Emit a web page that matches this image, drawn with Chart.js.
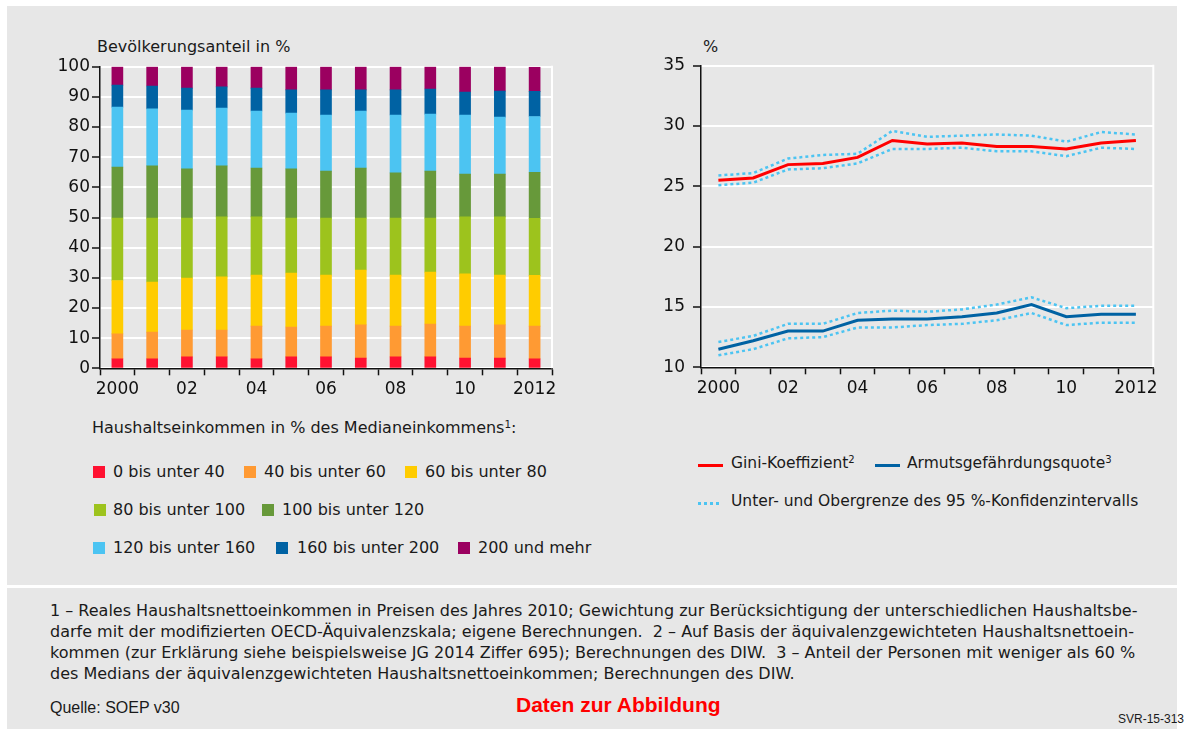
<!DOCTYPE html>
<html>
<head>
<meta charset="utf-8">
<script src="https://cdn.jsdelivr.net/npm/chart.js@4"></script>
<style>
  body { margin: 0; background: #fff; width: 1184px; height: 729px; position: relative; overflow: hidden; font-family: "DejaVu Sans", sans-serif; color: #1a1a1a; }
  .panel { position: absolute; background: #e7e7e7; }
  canvas { position: absolute; }
  .txt { position: absolute; white-space: nowrap; }
  .box { position: absolute; width: 12px; height: 12px; }
  .ln { position: absolute; height: 3px; width: 25px; }
  sup { font-size: 65%; vertical-align: 0; position: relative; top: -0.5em; }
</style>
</head>
<body>
<div class="panel" style="left:7px;top:6px;width:1170px;height:579px"></div>
<div class="panel" style="left:7px;top:588px;width:1170px;height:141px"></div>

<div class="txt" style="left:97px;top:37px;font-size:16px">Bevölkerungsanteil in %</div>
<div class="txt" style="left:703px;top:37px;font-size:16px">%</div>

<canvas id="barChart" width="530" height="370" style="left:40px;top:40px"></canvas>
<canvas id="lineChart" width="550" height="370" style="left:620px;top:40px"></canvas>

<div class="txt" style="left:92px;top:418px;font-size:16px">Haushaltseinkommen in % des Medianeinkommens<sup>1</sup>:</div>
<div id="barLegend"></div>
<div id="lineLegend"></div>

<div class="txt" style="left:50px;top:600px;font-size:16px;line-height:21px">
1 – Reales Haushaltsnettoeinkommen in Preisen des Jahres 2010; Gewichtung zur Berücksichtigung der unterschiedlichen Haushaltsbe-<br>
darfe mit der modifizierten OECD-Äquivalenzskala; eigene Berechnungen.&nbsp; 2 – Auf Basis der äquivalenzgewichteten Haushaltsnettoein-<br>
kommen (zur Erklärung siehe beispielsweise JG 2014 Ziffer 695); Berechnungen des DIW.&nbsp; 3 – Anteil der Personen mit weniger als 60 %<br>
des Medians der äquivalenzgewichteten Haushaltsnettoeinkommen; Berechnungen des DIW.
</div>
<div class="txt" style="left:50px;top:699px;font-size:16px;font-family:'Liberation Sans Narrow',sans-serif">Quelle: SOEP v30</div>
<div class="txt" style="left:516px;top:693px;font-size:21px;font-weight:bold;color:#f00;font-family:'Liberation Sans',sans-serif">Daten zur Abbildung</div>
<div class="txt" style="left:1118px;top:712px;font-size:12px;font-family:'Liberation Sans',sans-serif">SVR-15-313</div>

<script>
const years = ['2000','2001','2002','2003','2004','2005','2006','2007','2008','2009','2010','2011','2012'];
const tickLabels = ['2000','','02','','04','','06','','08','','10','','2012'];

// Bevölkerungsanteil nach Einkommensklasse (in %)
const bandNames = ['0 bis unter 40','40 bis unter 60','60 bis unter 80','80 bis unter 100','100 bis unter 120','120 bis unter 160','160 bis unter 200','200 und mehr'];
const band0to40    = [3.1, 3.1, 3.8, 3.8, 3.1, 3.8, 3.8, 3.4, 3.8, 3.8, 3.4, 3.4, 3.1];
const band40to60   = [8.3, 8.9, 8.9, 8.9, 10.9, 9.9, 10.2, 11.0, 10.2, 10.9, 10.6, 11.0, 10.9];
const band60to80   = [17.7, 16.6, 17.2, 17.6, 16.9, 17.9, 16.9, 18.2, 16.9, 17.2, 17.3, 16.5, 16.8];
const band80to100  = [20.7, 21.2, 19.9, 19.9, 19.3, 18.2, 18.9, 17.2, 18.9, 17.9, 18.9, 19.3, 18.9];
const band100to120 = [16.9, 17.3, 16.3, 16.9, 16.2, 16.3, 15.6, 16.6, 15.0, 15.6, 14.2, 14.2, 15.3];
const band120to160 = [19.9, 18.9, 19.5, 19.2, 18.9, 18.5, 18.6, 18.9, 19.2, 18.9, 19.6, 18.9, 18.5];
const band160to200 = [7.3, 7.6, 7.3, 7.0, 7.6, 7.7, 8.3, 7.0, 8.3, 8.3, 7.6, 8.6, 8.3];
const band200plus  = [6.1, 6.4, 7.1, 6.7, 7.1, 7.7, 7.7, 7.7, 7.7, 7.4, 8.4, 8.1, 8.1];
const bandColors = ['#ff1131','#ff9a33','#ffcc00','#9dc31d','#67993a','#4cc4f2','#0062a3','#9b0060'];

// Gini-Koeffizient und Armutsgefährdungsquote (in %)
const gini       = [25.5, 25.7, 26.8, 26.9, 27.4, 28.8, 28.5, 28.6, 28.3, 28.3, 28.1, 28.6, 28.8];
const giniUpper  = [25.9, 26.1, 27.3, 27.6, 27.7, 29.6, 29.1, 29.2, 29.3, 29.2, 28.7, 29.5, 29.3];
const giniLower  = [25.1, 25.3, 26.4, 26.5, 26.9, 28.1, 28.1, 28.2, 27.9, 27.9, 27.5, 28.2, 28.1];
const armut      = [11.5, 12.2, 13.0, 13.0, 13.9, 14.0, 14.0, 14.2, 14.5, 15.2, 14.2, 14.4, 14.4];
const armutUpper = [12.1, 12.6, 13.6, 13.6, 14.5, 14.7, 14.6, 14.8, 15.2, 15.8, 14.9, 15.1, 15.1];
const armutLower = [11.0, 11.5, 12.4, 12.5, 13.3, 13.3, 13.5, 13.6, 13.9, 14.5, 13.5, 13.7, 13.7];

const tickFont = { family: 'DejaVu Sans', size: 17 };
const ciColor = '#4cc4f2';

// white frame line on the right of the plot area
const rightEdge = {
  id: 'rightEdge',
  beforeDatasetsDraw(chart) {
    const a = chart.chartArea, ctx = chart.ctx;
    ctx.save();
    ctx.strokeStyle = '#fff';
    ctx.lineWidth = 2;
    ctx.beginPath();
    ctx.moveTo(a.right, a.top - 1);
    ctx.lineTo(a.right, a.bottom);
    ctx.stroke();
    ctx.restore();
  }
};

function xAxis(height) {
  return {
    grid: { display: true, offset: true, drawOnChartArea: false, drawTicks: true, tickLength: 7, tickColor: '#111', tickWidth: 1.5 },
    border: { color: '#111', width: 1.5 },
    ticks: { autoSkip: false, maxRotation: 0, padding: 4, color: '#111', font: tickFont, callback: (v, i) => tickLabels[i] },
    afterFit: s => { s.height = height; }
  };
}

const bandSeries = [band0to40, band40to60, band60to80, band80to100, band100to120, band120to160, band160to200, band200plus];

new Chart(document.getElementById('barChart'), {
  type: 'bar',
  data: {
    labels: years,
    datasets: bandSeries.map((d, i) => ({ label: bandNames[i], data: d, backgroundColor: bandColors[i], barThickness: 11 }))
  },
  options: {
    responsive: false,
    animation: false,
    layout: { padding: { top: 26.7, right: 18, left: 0, bottom: 0 } },
    plugins: { legend: { display: false }, tooltip: { enabled: false } },
    scales: {
      x: Object.assign(xAxis(41.7), { stacked: true }),
      y: {
        stacked: true, min: 0, max: 100,
        grid: { color: '#fff', lineWidth: 2, tickColor: '#111', tickLength: 8, tickWidth: 1.5 },
        border: { color: '#111', width: 1.5 },
        ticks: { stepSize: 10, padding: 2, color: '#111', font: tickFont },
        afterFit: s => { s.width = 60; }
      }
    }
  },
  plugins: [rightEdge]
});

function ciSet(data) {
  return { data: data, borderColor: ciColor, borderWidth: 2.5, borderDash: [3, 3], pointRadius: 0, fill: false, tension: 0 };
}

new Chart(document.getElementById('lineChart'), {
  type: 'line',
  data: {
    labels: years,
    datasets: [
      ciSet(giniUpper), ciSet(giniLower), ciSet(armutUpper), ciSet(armutLower),
      { label: 'Gini-Koeffizient', data: gini, borderColor: '#ff0000', borderWidth: 3, pointRadius: 0, tension: 0 },
      { label: 'Armutsgefährdungsquote', data: armut, borderColor: '#0062a3', borderWidth: 3, pointRadius: 0, tension: 0 }
    ]
  },
  options: {
    responsive: false,
    animation: false,
    layout: { padding: { top: 25.7, right: 16.7, left: 0, bottom: 0 } },
    plugins: { legend: { display: false }, tooltip: { enabled: false } },
    scales: {
      x: Object.assign(xAxis(42.7), { offset: true }),
      y: {
        min: 10, max: 35,
        grid: { color: '#fff', lineWidth: 2, tickColor: '#111', tickLength: 8, tickWidth: 1.5 },
        border: { color: '#111', width: 1.5 },
        ticks: { stepSize: 5, padding: 8, color: '#111', font: tickFont },
        afterFit: s => { s.width = 81; }
      }
    }
  },
  plugins: [rightEdge]
});

// HTML legends: [box x, text x, row top]
const barLegendPos = [
  [93, 113, 465], [244, 264, 465], [405, 425, 465],
  [94, 113, 503], [262, 282, 503],
  [93, 113, 541], [276, 297, 541], [458, 478, 541]
];
const barLegend = document.getElementById('barLegend');
bandNames.forEach((n, i) => {
  const p = barLegendPos[i];
  barLegend.insertAdjacentHTML('beforeend',
    `<div class="box" style="left:${p[0]}px;top:${p[2] + 1}px;background:${bandColors[i]}"></div>` +
    `<div class="txt" style="left:${p[1]}px;top:${p[2] - 3}px;font-size:16px">${n}</div>`);
});

document.getElementById('lineLegend').innerHTML =
  `<div class="ln" style="left:698px;top:464px;background:#ff0000"></div>` +
  `<div class="txt" style="left:731px;top:454px;font-size:15.5px">Gini-Koeffizient<sup>2</sup></div>` +
  `<div class="ln" style="left:875px;top:464px;background:#0062a3"></div>` +
  `<div class="txt" style="left:907px;top:454px;font-size:15.5px">Armutsgefährdungsquote<sup>3</sup></div>` +
  `<div class="ln" style="left:698px;top:502px;width:24px;background:repeating-linear-gradient(90deg, ${ciColor} 0 3px, transparent 3px 6px)"></div>` +
  `<div class="txt" style="left:731px;top:492px;font-size:15.5px">Unter- und Obergrenze des 95 %-Konfidenzintervalls</div>`;
</script>
</body>
</html>
